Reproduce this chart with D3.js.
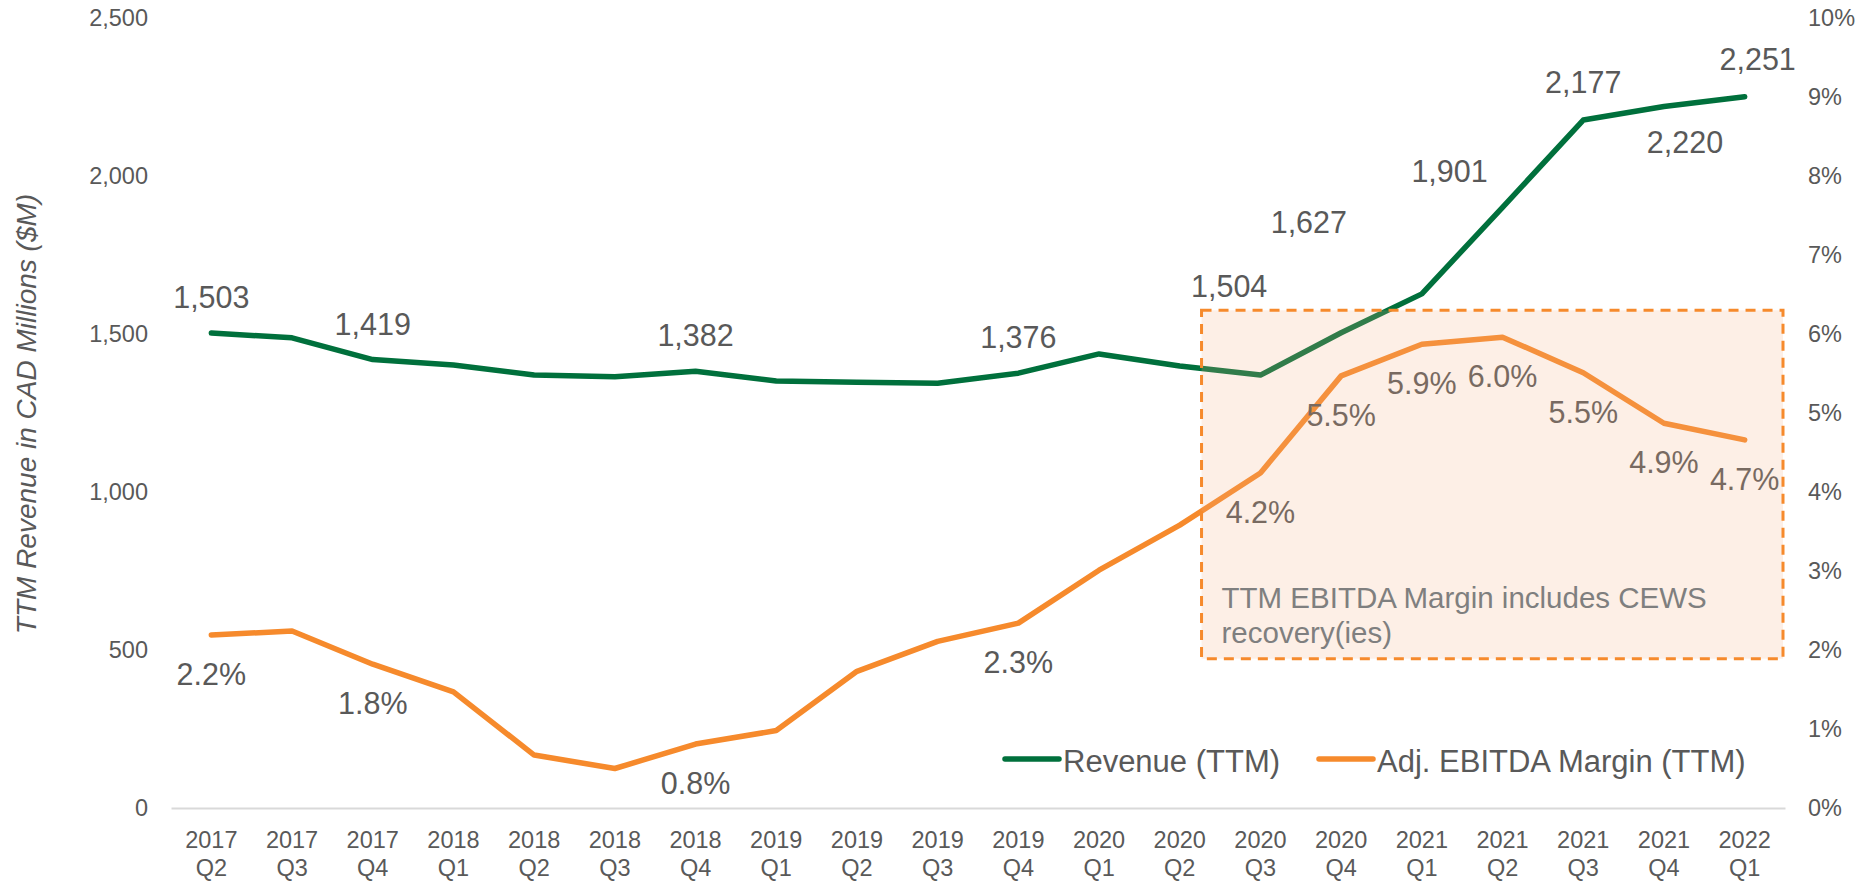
<!DOCTYPE html>
<html>
<head>
<meta charset="utf-8">
<script src="https://cdn.jsdelivr.net/npm/d3@7"></script>
<style>
  html, body { margin: 0; padding: 0; background: #ffffff; }
  svg { display: block; font-family: "Liberation Sans", Arial, Helvetica, sans-serif; }
</style>
</head>
<body>
<svg id="chart" width="1859" height="881"></svg>
<script>
// ---------------- DATA ----------------
const categories = [
  "2017 Q2", "2017 Q3", "2017 Q4", "2018 Q1", "2018 Q2", "2018 Q3", "2018 Q4",
  "2019 Q1", "2019 Q2", "2019 Q3", "2019 Q4", "2020 Q1", "2020 Q2", "2020 Q3",
  "2020 Q4", "2021 Q1", "2021 Q2", "2021 Q3", "2021 Q4", "2022 Q1"
];
// TTM revenue, CAD millions
const revenue = [1503, 1488, 1419, 1402, 1370, 1365, 1382, 1351, 1347, 1344,
                 1376, 1437, 1399, 1370, 1504, 1627, 1901, 2177, 2220, 2251];
// Adj. EBITDA margin (TTM), percent
const margin = [2.19, 2.24, 1.82, 1.47, 0.67, 0.50, 0.81, 0.98, 1.73, 2.11,
                2.34, 3.01, 3.58, 4.24, 5.47, 5.87, 5.96, 5.51, 4.87, 4.66];

const revenueLabelCats = ["2017 Q2", "2017 Q4", "2018 Q4", "2019 Q4", "2020 Q4",
                          "2021 Q1", "2021 Q2", "2021 Q3", "2021 Q4", "2022 Q1"];
const marginLabelCats = ["2017 Q2", "2017 Q4", "2018 Q4", "2019 Q4", "2020 Q3", "2020 Q4",
                         "2021 Q1", "2021 Q2", "2021 Q3", "2021 Q4", "2022 Q1"];

const leftTicks = [0, 500, 1000, 1500, 2000, 2500];
const rightTicks = [0, 1, 2, 3, 4, 5, 6, 7, 8, 9, 10];

const seriesNames = ["Revenue (TTM)", "Adj. EBITDA Margin (TTM)"];
const yAxisTitle = "TTM Revenue in CAD Millions ($M)";
const noteLines = ["TTM EBITDA Margin includes CEWS", "recovery(ies)"];
const noteRange = { fromCat: "2020 Q2", marginTop: 6.3, marginBottom: 1.89 };

// ---------------- LAYOUT / STYLE ----------------
const GREEN = "#00703C";
const ORANGE = "#F68A2C";
const TEXT = "#595959";
const FONT = 23.5;
const LABEL_FONT = 30.5;

// manual label nudges (pixels), keyed by category
const revLabelNudge = {
  "2020 Q4": [-112, -36],
  "2021 Q1": [-113, -61],
  "2021 Q2": [-53, -25],
  "2021 Q3": [0, -27],
  "2021 Q4": [21, 47],
  "2022 Q1": [13, -27]
};

const svg = d3.select("#chart");
const plotLeft = 171, plotRight = 1785, plotTop = 18, plotBottom = 808;

const x = d3.scaleBand().domain(categories).range([plotLeft, plotRight]).padding(0);
const cx = c => x(c) + x.bandwidth() / 2;
const yL = d3.scaleLinear().domain([0, 2500]).range([plotBottom, plotTop]);
const yR = d3.scaleLinear().domain([0, 10]).range([plotBottom, plotTop]);

const revData = categories.map((c, i) => ({ c, v: revenue[i] }));
const marData = categories.map((c, i) => ({ c, v: margin[i] }));

// left axis
const leftAxis = svg.append("g")
  .attr("transform", `translate(${plotLeft},0)`)
  .call(d3.axisLeft(yL).tickValues(leftTicks).tickSize(0).tickPadding(23)
        .tickFormat(d3.format(",")));
leftAxis.select(".domain").remove();
leftAxis.selectAll("text").attr("font-size", FONT).attr("fill", TEXT)
  .attr("font-family", '"Liberation Sans", Arial, sans-serif');

// right axis
const rightAxis = svg.append("g")
  .attr("transform", `translate(${plotRight},0)`)
  .call(d3.axisRight(yR).tickValues(rightTicks).tickSize(0).tickPadding(23)
        .tickFormat(d => d + "%"));
rightAxis.select(".domain").remove();
rightAxis.selectAll("text").attr("font-size", FONT).attr("fill", TEXT)
  .attr("font-family", '"Liberation Sans", Arial, sans-serif');

// bottom axis
const bottomAxis = svg.append("g")
  .attr("transform", `translate(0,${plotBottom})`)
  .call(d3.axisBottom(x).tickSize(0).tickPadding(0).tickFormat(""));
bottomAxis.select(".domain").attr("stroke", "#D9D9D9").attr("stroke-width", 2);
bottomAxis.selectAll(".tick").each(function (d) {
  const parts = d.split(" ");
  const t = d3.select(this).append("text")
    .attr("fill", TEXT).attr("font-size", FONT).attr("text-anchor", "middle")
    .attr("font-family", '"Liberation Sans", Arial, sans-serif');
  t.append("tspan").attr("x", 0).attr("y", 39.5).text(parts[0]);
  t.append("tspan").attr("x", 0).attr("y", 67.5).text(parts[1]);
});

// y axis title
svg.append("text")
  .attr("transform", `translate(26,414) rotate(-90)`)
  .attr("text-anchor", "middle").attr("dominant-baseline", "central")
  .attr("font-size", 28).attr("font-style", "italic").attr("fill", TEXT)
  .text(yAxisTitle);

// lines
const revLine = d3.line().x(d => cx(d.c)).y(d => yL(d.v));
const marLine = d3.line().x(d => cx(d.c)).y(d => yR(d.v));

svg.append("path").datum(revData).attr("d", revLine)
  .attr("fill", "none").attr("stroke", GREEN).attr("stroke-width", 5.5)
  .attr("stroke-linejoin", "round").attr("stroke-linecap", "round");
svg.append("path").datum(marData).attr("d", marLine)
  .attr("fill", "none").attr("stroke", ORANGE).attr("stroke-width", 5.5)
  .attr("stroke-linejoin", "round").attr("stroke-linecap", "round");

// revenue labels
const fmt = d3.format(",");
svg.append("g").selectAll("text")
  .data(revData.filter(d => revenueLabelCats.includes(d.c)))
  .join("text")
  .attr("x", d => cx(d.c) + (revLabelNudge[d.c] ? revLabelNudge[d.c][0] : 0))
  .attr("y", d => yL(d.v) + (revLabelNudge[d.c] ? revLabelNudge[d.c][1] : -25))
  .attr("text-anchor", "middle").attr("font-size", LABEL_FONT).attr("fill", TEXT)
  .text(d => fmt(d.v));

// margin labels
svg.append("g").selectAll("text")
  .data(marData.filter(d => marginLabelCats.includes(d.c)))
  .join("text")
  .attr("x", d => cx(d.c))
  .attr("y", d => yR(d.v) + 50)
  .attr("text-anchor", "middle").attr("font-size", LABEL_FONT).attr("fill", TEXT)
  .text(d => d.v.toFixed(1) + "%");

// annotation box (overlay)
const boxX0 = x(noteRange.fromCat) + x.bandwidth() * 0.77;
const boxX1 = plotRight - 2;
const boxY0 = yR(noteRange.marginTop);
const boxY1 = yR(noteRange.marginBottom);
svg.append("rect")
  .attr("x", boxX0).attr("y", boxY0)
  .attr("width", boxX1 - boxX0).attr("height", boxY1 - boxY0)
  .attr("fill", "#F4B183").attr("fill-opacity", 0.2)
  .attr("stroke", ORANGE).attr("stroke-width", 3)
  .attr("stroke-dasharray", "10,7");
const note = svg.append("text").attr("font-size", 29.5).attr("fill", "#7F7F7F");
noteLines.forEach((l, i) => {
  note.append("tspan").attr("x", boxX0 + 20).attr("y", 608 + i * 35).text(l);
});

// legend
const legend = svg.append("g");
const legendItems = [
  { name: seriesNames[0], color: GREEN, x: 1005 },
  { name: seriesNames[1], color: ORANGE, x: 1319 }
];
legendItems.forEach(it => {
  legend.append("line")
    .attr("x1", it.x).attr("x2", it.x + 54).attr("y1", 759).attr("y2", 759)
    .attr("stroke", it.color).attr("stroke-width", 5.5).attr("stroke-linecap", "round");
  legend.append("text")
    .attr("x", it.x + 58).attr("y", 772)
    .attr("font-size", 31).attr("fill", TEXT).text(it.name);
});
</script>
</body>
</html>
